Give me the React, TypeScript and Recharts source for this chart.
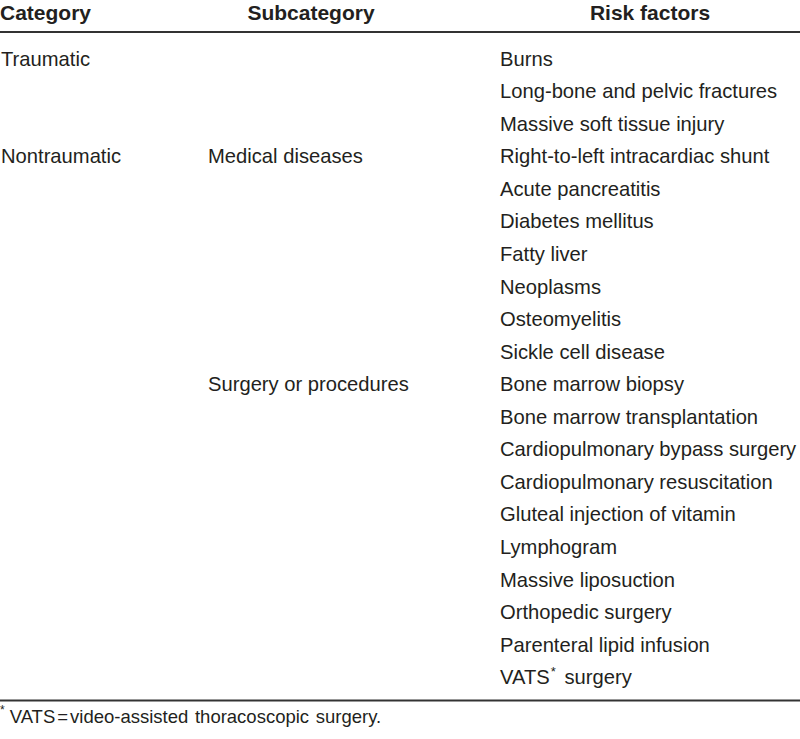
import React from "react";
import { ScatterChart, Scatter, XAxis, YAxis, ReferenceLine } from "recharts";

// ---- data ----
const headers = ["Category", "Subcategory", "Risk factors"];
const categories = ["Traumatic", "Nontraumatic"];
const categoryRows = [0, 3];
const subcategories = ["Medical diseases", "Surgery or procedures"];
const subcategoryRows = [3, 10];
const riskFactors = [
  "Burns",
  "Long-bone and pelvic fractures",
  "Massive soft tissue injury",
  "Right-to-left intracardiac shunt",
  "Acute pancreatitis",
  "Diabetes mellitus",
  "Fatty liver",
  "Neoplasms",
  "Osteomyelitis",
  "Sickle cell disease",
  "Bone marrow biopsy",
  "Bone marrow transplantation",
  "Cardiopulmonary bypass surgery",
  "Cardiopulmonary resuscitation",
  "Gluteal injection of vitamin",
  "Lymphogram",
  "Massive liposuction",
  "Orthopedic surgery",
  "Parenteral lipid infusion",
  "VATS* surgery",
];
const footnoteAbbr = "VATS";
const footnoteText = "video-assisted thoracoscopic surgery.";

// ---- layout ----
const W = 800;
const H = 739;
const ROW_H = 32.55;
const FIRST_BASELINE = 65.7;
const toRow = (px: number) => (px - FIRST_BASELINE) / ROW_H;
const HEADER_ROW = toRow(20);
const TOP_RULE_ROW = toRow(32);
const BOTTOM_RULE_ROW = toRow(700.5);
const FOOT_ROW = toRow(723);
const COL_X = [1, 208, 500];
const HEADER_X = [0, 311, 650];
const HEADER_ANCHOR = ["start", "middle", "middle"];
const FONT = "'Liberation Sans', Arial, Helvetica, sans-serif";
const INK = "#231f20";
const BODY_SIZE = 20.2;

const headerData = headers.map((label, i) => ({ col: i, row: HEADER_ROW, label }));
const catData = categories.map((label, i) => ({ col: 0, row: categoryRows[i], label }));
const subData = subcategories.map((label, i) => ({ col: 1, row: subcategoryRows[i], label }));
const riskData = riskFactors.map((label, i) => ({ col: 2, row: i, label }));
const footData = [{ col: 0, row: FOOT_ROW, label: footnoteAbbr }];

const HeaderShape = (props: any) => {
  const { cy, payload } = props;
  const c = payload.col;
  return (
    <text
      x={HEADER_X[c]}
      y={cy}
      textAnchor={HEADER_ANCHOR[c] as any}
      fontFamily={FONT}
      fontWeight="bold"
      fontSize={21}
      fill={INK}
    >
      {payload.label}
    </text>
  );
};

const BodyShape = (props: any) => {
  const { cy, payload } = props;
  const x = COL_X[payload.col];
  const label: string = payload.label;
  if (label.includes("*")) {
    const [a, b] = label.split("*");
    return (
      <text x={x} y={cy} fontFamily={FONT} fontSize={BODY_SIZE} fill={INK}>
        <tspan>{a}</tspan>
        <tspan dy={-8} dx={1} fontSize={13}>*</tspan>
        <tspan dy={8} dx={3}>{b}</tspan>
      </text>
    );
  }
  return (
    <text x={x} y={cy} fontFamily={FONT} fontSize={BODY_SIZE} fill={INK}>
      {label}
    </text>
  );
};

const FootShape = (props: any) => {
  const { cy, payload } = props;
  return (
    <text x={0} y={cy} fontFamily={FONT} fontSize={18.5} fill={INK} wordSpacing={1.5}>
      <tspan dy={-9} fontSize={12}>*</tspan>
      <tspan dy={9} dx={5}>{payload.label}</tspan>
      <tspan dx={2}>=</tspan>
      <tspan dx={2}>{footnoteText}</tspan>
    </text>
  );
};

export default function App() {
  return (
    <div style={{ position: "absolute", left: 0, top: 0, width: W, height: H, background: "#fff" }}>
      <ScatterChart width={W} height={H} margin={{ top: 0, right: 0, bottom: 0, left: 0 }}>
        <XAxis type="number" dataKey="col" domain={[0, 2]} hide />
        <YAxis
          type="number"
          dataKey="row"
          domain={[-FIRST_BASELINE / ROW_H, (H - FIRST_BASELINE) / ROW_H]}
          reversed
          hide
          allowDataOverflow
        />
        <ReferenceLine y={TOP_RULE_ROW} stroke="#333" strokeWidth={2} />
        <ReferenceLine y={BOTTOM_RULE_ROW} stroke="#333" strokeWidth={2} />
        <Scatter data={headerData} shape={HeaderShape} isAnimationActive={false} />
        <Scatter data={catData} shape={BodyShape} isAnimationActive={false} />
        <Scatter data={subData} shape={BodyShape} isAnimationActive={false} />
        <Scatter data={riskData} shape={BodyShape} isAnimationActive={false} />
        <Scatter data={footData} shape={FootShape} isAnimationActive={false} />
      </ScatterChart>
    </div>
  );
}
